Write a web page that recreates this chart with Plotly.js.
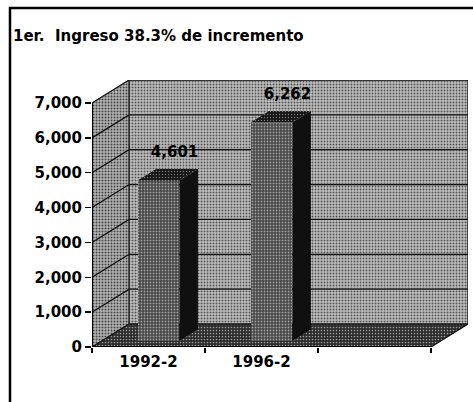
<!DOCTYPE html>
<html>
<head>
<meta charset="utf-8">
<script src="https://cdn.plot.ly/plotly-3.0.1.min.js"></script>
<style>html,body{margin:0;padding:0;background:#fff;}#chart{width:473px;height:402px;}</style>
</head>
<body>
<div id="chart"></div>
<script>
// ---- data ----
const categories = ['1992-2', '1996-2', ''];
const values = [4601, 6262];
const yTicks = [0, 1000, 2000, 3000, 4000, 5000, 6000, 7000];
const titleText = '1er.\u00a0 Ingreso 38.3% de incremento';

// ---- 3D look (style) ----
const DX = 0.328;      // depth in category units
const DY = 660;        // depth in value units
const FRONT = 0.27;    // bar front position within depth
const BDEPTH = 0.5;    // bar depth fraction
const BW = 0.37;       // bar width
const FONT = {family: 'DejaVu Sans', size: 15, color: '#000', weight: 'bold'};

const n = categories.length;
const xL = -0.5, xR = n - 0.5;
const yMax = yTicks[yTicks.length - 1];
const traces = [];

// side wall
traces.push({x: [xL, xL, xL + DX, xL + DX, xL], y: [0, yMax, yMax + DY, DY, 0],
  mode: 'lines', fill: 'toself', fillcolor: '#9c9c9c', line: {width: 0},
  fillpattern: {shape: '.', bgcolor: '#b4b4b4', fgcolor: '#444', size: 3, solidity: 0.35},
  hoverinfo: 'skip', showlegend: false});
// back wall
traces.push({x: [xL + DX, xR + DX, xR + DX, xL + DX, xL + DX], y: [DY, DY, yMax + DY, yMax + DY, DY],
  mode: 'lines', fill: 'toself', fillcolor: '#a8a8a8', line: {width: 0},
  fillpattern: {shape: '.', bgcolor: '#c0c0c0', fgcolor: '#555', size: 3, solidity: 0.35},
  hoverinfo: 'skip', showlegend: false});
// floor
traces.push({x: [xL, xR, xR + DX, xL + DX, xL], y: [0, 0, DY, DY, 0],
  mode: 'lines', fill: 'toself', fillcolor: '#3c3c3c', line: {width: 0},
  fillpattern: {shape: '.', bgcolor: '#2a2a2a', fgcolor: '#9a9a9a', size: 3, solidity: 0.25},
  hoverinfo: 'skip', showlegend: false});

// gridlines on walls
const gx = [], gy = [];
yTicks.forEach(v => {
  gx.push(xL, xL + DX, xR + DX, null);
  gy.push(v, v + DY, v + DY, null);
});
// wall edges
gx.push(xL + DX, xL + DX, null, xR + DX, xR + DX, null, xR, xR + DX, null);
gy.push(DY, yMax + DY, null, DY, yMax + DY, null, 0, DY, null);
traces.push({x: gx, y: gy, mode: 'lines', line: {color: '#111', width: 1.3},
  hoverinfo: 'skip', showlegend: false});

// front axis lines
traces.push({x: [xL, xL, null, xL, xR], y: [yMax, 0, null, 0, 0], mode: 'lines',
  line: {color: '#000', width: 2}, hoverinfo: 'skip', showlegend: false});

// bars (front faces) on the overlay subplot so they sit above the walls
const xs = values.map((v, i) => i);
const base = FRONT * DY;
traces.push({type: 'bar', x: xs, y: values, base: values.map(() => base),
  width: BW, offset: FRONT * DX - BW / 2, xaxis: 'x2',
  marker: {color: '#505050', line: {width: 0},
    pattern: {shape: '.', bgcolor: '#454545', fgcolor: '#a0a0a0', size: 3, solidity: 0.3}},
  hoverinfo: 'skip', showlegend: false});

// side and top faces
values.forEach((v, i) => {
  const x0 = i + FRONT * DX - BW / 2, x1 = x0 + BW;
  const dx = BDEPTH * DX, dy = BDEPTH * DY;
  traces.push({x: [x1, x1, x1 + dx, x1 + dx, x1], y: [base, base + v, base + v + dy, base + dy, base],
    mode: 'lines', fill: 'toself', fillcolor: '#101010', line: {width: 0}, xaxis: 'x2',
    hoverinfo: 'skip', showlegend: false});
  traces.push({x: [x0, x1, x1 + dx, x0 + dx, x0], y: [base + v, base + v, base + v + dy, base + v + dy, base + v],
    mode: 'lines', fill: 'toself', fillcolor: '#1e1e1e', line: {width: 0}, xaxis: 'x2',
    fillpattern: {shape: '.', bgcolor: '#151515', fgcolor: '#777', size: 3, solidity: 0.2},
    hoverinfo: 'skip', showlegend: false});
});

// data labels
traces.push({x: values.map((v, i) => i + FRONT * DX + BDEPTH * DX / 2 + 0.06),
  y: values.map(v => v + base + BDEPTH * DY + 440),
  text: values.map(v => v.toLocaleString('en-US')),
  mode: 'text', textposition: 'middle center', textfont: FONT,
  xaxis: 'x2', cliponaxis: false, hoverinfo: 'skip', showlegend: false});

const layout = {
  width: 473, height: 402,
  margin: {l: 92, r: 5, t: 80, b: 55, pad: 0},
  paper_bgcolor: '#fff', plot_bgcolor: 'rgba(0,0,0,0)',
  showlegend: false, bargap: 0,
  title: {text: titleText, font: FONT, x: 13 / 473, xanchor: 'left', xref: 'container',
    y: 1 - 36 / 402, yanchor: 'middle', yref: 'container'},
  xaxis: {range: [xL, xR + DX], showgrid: false, zeroline: false, showline: false,
    tickmode: 'array', tickvals: categories.map((c, i) => i - 0.5).concat([xR]),
    showticklabels: false, ticks: 'outside', ticklen: 5, tickcolor: '#000', tickwidth: 1.5,
    fixedrange: true},
  xaxis2: {overlaying: 'x', matches: 'x', side: 'bottom', showgrid: false, zeroline: false,
    showline: false, tickmode: 'array', tickvals: categories.map((c, i) => i),
    ticktext: categories, ticks: '', tickfont: FONT, ticklabelstandoff: 4},
  yaxis: {range: [0, yMax + DY], showgrid: false, zeroline: false, showline: false,
    tickmode: 'array', tickvals: yTicks, tickformat: ',', ticks: 'outside', ticklen: 6,
    tickcolor: '#000', tickwidth: 1.5, tickfont: FONT, fixedrange: true},
  shapes: [{type: 'rect', xref: 'paper', yref: 'paper',
    x0: (10 - 92) / 376, x1: (520 - 92) / 376, y0: (347 - 420) / 267, y1: (347 - 8) / 267,
    line: {color: '#000', width: 2.5}, layer: 'below'}]
};

Plotly.newPlot('chart', traces, layout, {staticPlot: true, displayModeBar: false});
</script>
</body>
</html>
